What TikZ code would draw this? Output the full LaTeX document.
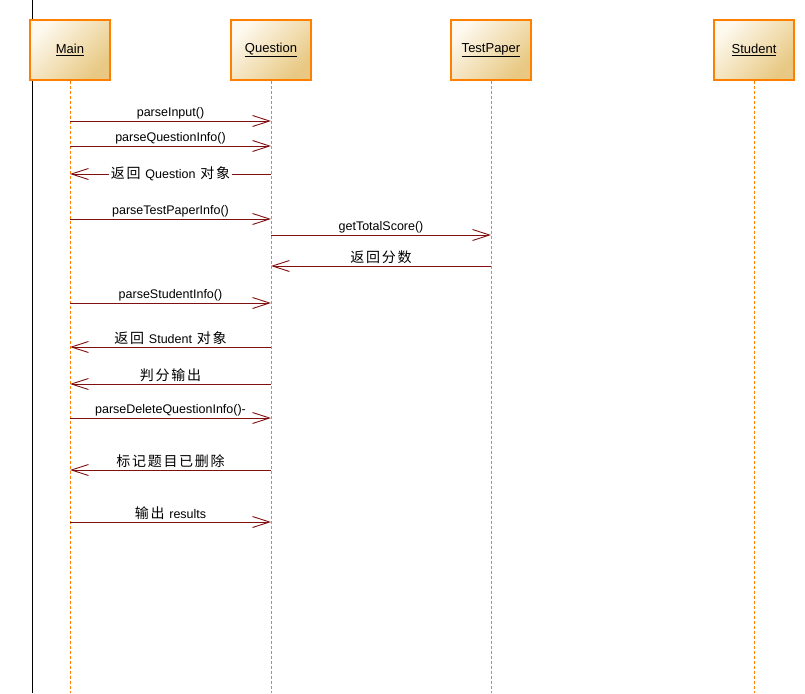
\documentclass[tikz,border=0pt]{standalone}
\usepackage{fontspec}
\setmainfont{Liberation Sans}
\newfontfamily\latinlbl{Liberation Sans}
\newfontfamily\cjk[LetterSpace=12]{Noto Sans CJK SC}
\usetikzlibrary{arrows.meta}
\definecolor{msg}{RGB}{128,16,16}
\definecolor{lifeor}{RGB}{255,128,0}
\definecolor{boxlight}{RGB}{253,249,238}
\definecolor{boxdark}{RGB}{232,200,130}
\newcommand{\lt}[1]{{\latinlbl\fontsize{12.5}{15}\selectfont #1}}
\tikzset{
  obj/.style={draw=lifeor, line width=1.3pt, minimum width=80pt, minimum height=60pt,
    left color=boxlight, right color=boxdark, shading angle=45, inner sep=0pt,
    font=\fontsize{13}{15}\selectfont},
  life/.style={draw=lifeor, line width=0.8pt, dash pattern=on 3pt off 2pt},
  call/.style={draw=msg, line width=0.9pt, -{Straight Barb[length=17pt,width=11pt,line width=0.9pt]}},
  lbl/.style={font=\latinlbl\fontsize{12.5}{15}\selectfont, text=black, inner sep=1pt},
  cjklbl/.style={font=\cjk\fontsize{14}{16}\selectfont, text=black, inner sep=1.5pt}
}
\begin{document}
\begin{tikzpicture}[x=1pt,y=-1pt]
\useasboundingbox (0,0) rectangle (805,693);
\fill[white] (0,0) rectangle (805,693);
\draw[black, line width=1.2pt] (32.5,0) -- (32.5,693);
% objects
\node[obj] (main) at (70,50) {\underline{Main}};
\node[obj] (q) at (271,50) {\underline{Question}};
\node[obj] (tp) at (491,50) {\underline{TestPaper}};
\node[obj] (st) at (754,50) {\underline{Student}};
\coordinate (mainE) at (70,693);
\coordinate (qE) at (271,693);
\coordinate (tpE) at (491,693);
\coordinate (stE) at (754,693);
\draw[life] (main.south) -- (mainE);
\draw[life] (q.south) -- (qE);
\draw[life] (tp.south) -- (tpE);
\draw[life] (st.south) -- (stE);
% message anchors
\foreach \n/\y in {1/121,2/146,3/174,4/219,6/303,7/347,8/384,9/418,10/470,11/522}{
  \coordinate (m\n) at (70,\y);
  \coordinate (q\n) at (271,\y);
}
\coordinate (q5a) at (271,235); \coordinate (t5a) at (491,235);
\coordinate (q5b) at (271,266); \coordinate (t5b) at (491,266);
% messages
\draw[call] (m1) -- node[lbl, above=0pt] (l1) {parseInput()} (q1);
\draw[call] (m2) -- node[lbl, above=0pt] (l2) {parseQuestionInfo()} (q2);
\draw[call] (q3) -- node[cjklbl, fill=white, pos=0.5] (l3) {返回 \lt{Question} 对象} (m3);
\draw[call] (m4) -- node[lbl, above=0pt] (l4) {parseTestPaperInfo()} (q4);
\draw[call] (q5a) -- node[lbl, above=0pt] (l5a) {getTotalScore()} (t5a);
\draw[call] (t5b) -- node[cjklbl, above=0pt] (l5b) {返回分数} (q5b);
\draw[call] (m6) -- node[lbl, above=0pt] (l6) {parseStudentInfo()} (q6);
\draw[call] (q7) -- node[cjklbl, above=0pt] (l7) {返回 \lt{Student} 对象} (m7);
\draw[call] (q8) -- node[cjklbl, above=0pt] (l8) {判分输出} (m8);
\draw[call] (m9) -- node[lbl, above=0pt] (l9) {parseDeleteQuestionInfo()-} (q9);
\draw[call] (q10) -- node[cjklbl, above=0pt] (l10) {标记题目已删除} (m10);
\draw[call] (m11) -- node[cjklbl, above=0pt] (l11) {输出 \lt{results}} (q11);
\end{tikzpicture}
\end{document}
